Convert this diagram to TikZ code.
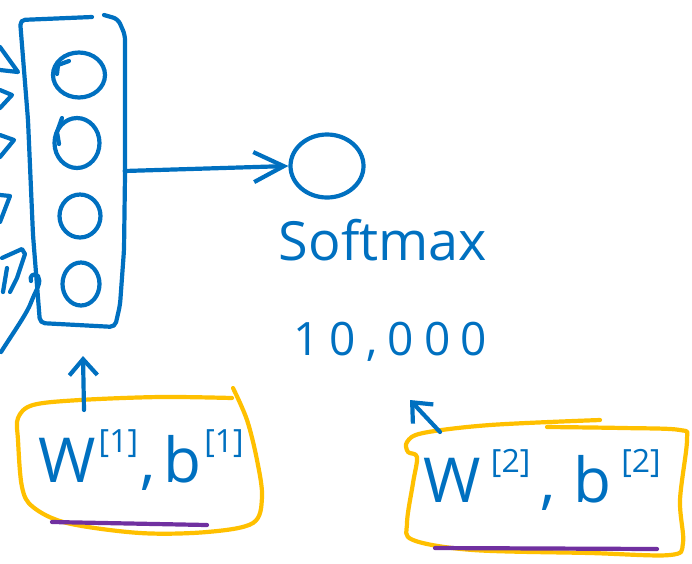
\documentclass[tikz,border=0pt]{standalone}
\usepackage{fontspec}
\setmainfont{Open Sans}
\usetikzlibrary{arrows.meta,shapes.geometric}
\definecolor{ink}{RGB}{0,112,192}
\definecolor{marker}{RGB}{255,192,0}
\definecolor{uline}{RGB}{112,48,160}
\newcommand\layerup[1]{\raisebox{0.48em}{\fontsize{32}{32}\selectfont[#1]}}
\begin{document}
\begin{tikzpicture}[x=1pt,y=-1pt,
  pen/.style={draw=ink,line width=4.2pt,line cap=round,line join=round},
  hl/.style={draw=marker,line width=4.2pt,line cap=round,line join=round},
  uline/.style={draw=uline,line width=4.2pt,line cap=round},
  unit/.style={pen,ellipse,inner sep=0pt},
  hand/.style={text=ink,inner sep=0pt},
  barb/.style={-{Straight Barb[length=#1,width=30pt]}},
  ghost/.style={inner sep=0pt,draw=none}]
\useasboundingbox (0,0) rectangle (692,563);

% tips of the incoming arrows from the previous layer
\draw[pen] (0,47) -- (18,72) -- (0,70);
\draw[pen] (0,90) -- (12,95) -- (0,108);
\draw[pen] (0,135) -- (14,140) -- (0,157);
\draw[pen] (0,195) -- (10,196) -- (0,222);
\draw[pen] (2,258) -- (22,249) -- (25,254) -- (17,278) -- (10,292);
\draw[pen] (7,268) -- (3,292);
\draw[pen] (1,352) .. controls (15,330) and (28,312) .. (32,300)
  .. controls (36,290) and (42,282) .. (38,276) .. controls (34,272) and (29,276) .. (31,281);

% hidden layer
\node[ghost,minimum width=105pt,minimum height=310pt] (layer) at (72,171) {};
\draw[pen,rounded corners=5pt] (92,17) -- (20,20) -- (28,120) -- (33,235) -- (40,323) -- (115,327)
  -- (120,305) -- (124,250) -- (125,175) -- (125,35) -- (118,19) -- (104,15);
\node[unit,minimum width=52pt,minimum height=45pt] (u1) at (79,75) {};
\draw[pen] (57,74) -- (58,65) -- (69,61);
\node[unit,minimum width=45pt,minimum height=50pt] (u2) at (77,143) {};
\draw[pen] (62,118) -- (57,132) -- (59,144);
\node[unit,minimum width=41pt,minimum height=43pt] (u3) at (80,216) {};
\node[unit,minimum width=37pt,minimum height=43pt] (u4) at (81,284) {};

% softmax output
\node[unit,minimum width=73pt,minimum height=63pt] (out) at (327,166) {};
\draw[pen,barb=30pt] (layer.east) -- (out.west);
\node[hand,font=\fontsize{54}{54}\selectfont] (soft) at (383,240) {Softmax};
\node[hand,font=\fontsize{46}{46}\selectfont\addfontfeature{LetterSpace=22}] (ten) at (390,342) {10,000};

% parameters of the hidden layer
\node[ghost,minimum width=245pt,minimum height=140pt] (p1) at (140,462) {};
\draw[hl] plot[smooth,tension=0.55] coordinates {(232,398) (160,397) (80,400) (33,405) (18,418)
  (18,440) (22,487) (33,507) (67,523) (140,533) (207,532) (253,523) (262,497) (257,460) (247,420) (233,388)};
\node[hand,font=\fontsize{62}{62}\selectfont] (w1) at (141,460)
  {W\kern3pt\layerup{1}\kern2pt,\kern8pt b\kern3pt\layerup{1}};
\draw[uline] (52,522) -- (207,525);
\coordinate (a1) at (84,410);
\coordinate (t1) at (83,356);
\draw[pen,-{Straight Barb[length=16pt,width=28pt]}] (a1) -- (t1);

% parameters of the softmax layer
\node[ghost,minimum width=280pt,minimum height=135pt] (p2) at (546,488) {};
\draw[hl] plot[smooth,tension=0.55] coordinates {(600,420) (490,425) (423,433) (407,442) (408,452)
  (417,457) (413,483) (407,523) (413,540) (473,550) (590,553) (670,555) (683,543) (680,500)
  (687,440) (680,430) (623,428) (547,427)};
\node[hand,font=\fontsize{62}{62}\selectfont] (w2) at (542,480) {W\,\layerup{2}\,,\;b\,\layerup{2}};
\draw[uline] (435,548) -- (657,549);
\coordinate (a2) at (440,432);
\coordinate (t2) at (410,400);
\draw[pen,-{Straight Barb[length=16pt,width=28pt]}] (a2) -- (t2);
\end{tikzpicture}
\end{document}
